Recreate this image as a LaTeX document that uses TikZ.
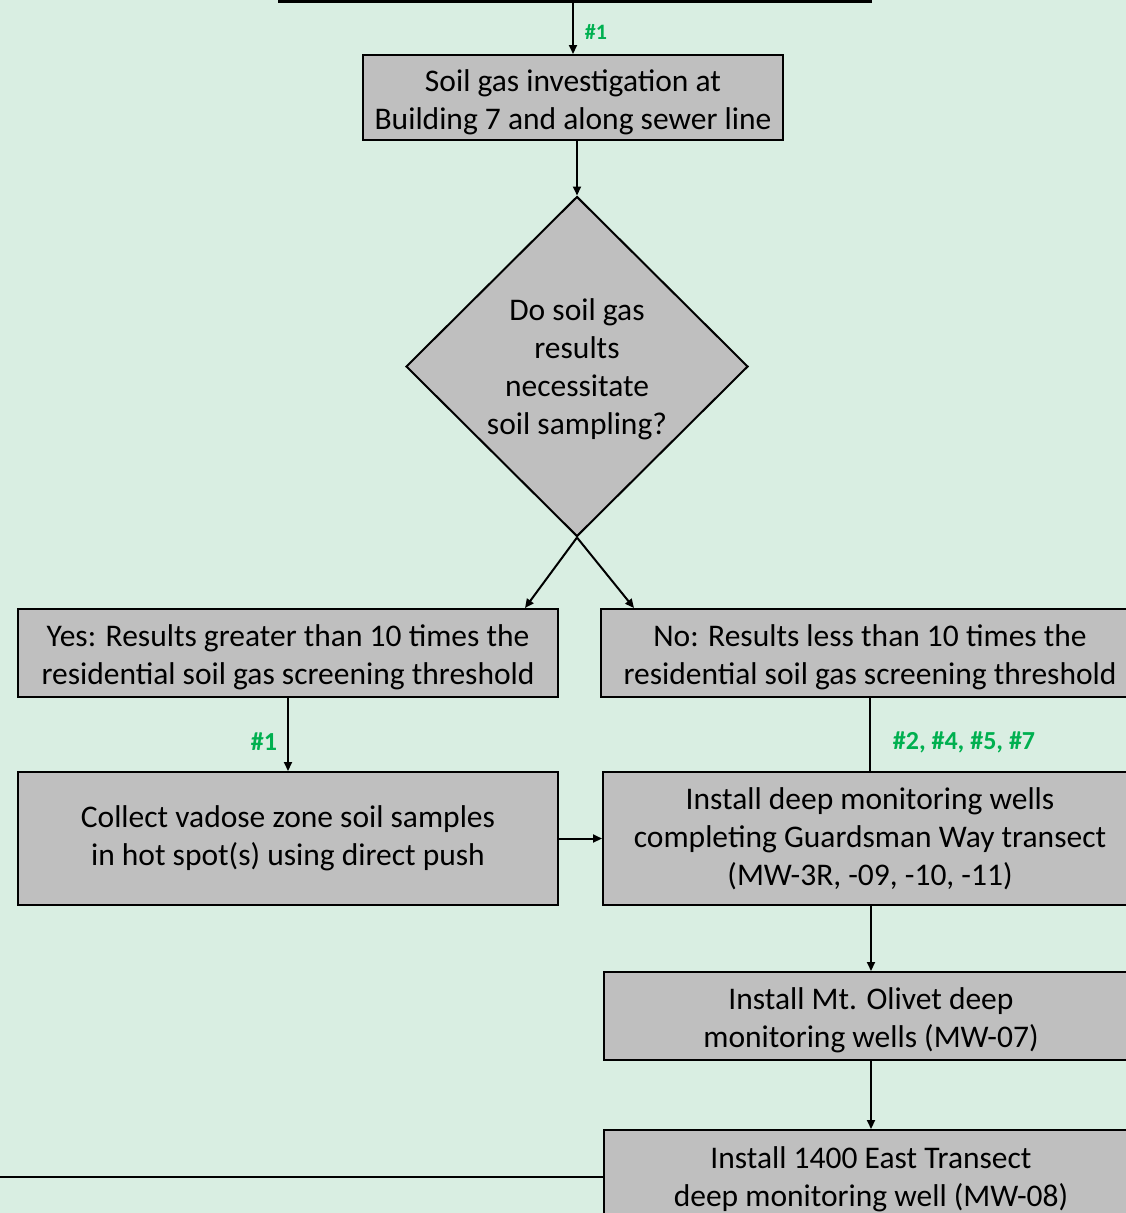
\documentclass[tikz,border=0pt]{standalone}
\usepackage{fontspec}
\setmainfont{Carlito}
\usetikzlibrary{shapes.geometric,arrows.meta}
\definecolor{bg}{RGB}{217,238,226}
\definecolor{boxgray}{RGB}{191,191,191}
\definecolor{lblgreen}{RGB}{0,176,80}
\newcommand\mytopstrut{\rule{0pt}{30.5pt}}
\begin{document}
\begin{tikzpicture}[x=1pt,y=-1pt,
  box/.style={draw=black,line width=2pt,fill=boxgray,align=center,inner sep=0pt,font=\fontsize{31.5}{38}\selectfont},
  arr/.style={line width=2pt,-{Triangle[length=9pt,width=8pt]}},
  conn/.style={line width=2pt},
  lbl/.style={text=lblgreen,font=\fontsize{26}{30}\selectfont\bfseries}]
\useasboundingbox (0,0) rectangle (1126,1213);
\path[clip] (0,0) rectangle (1126,1213);
\fill[bg] (0,0) rectangle (1126,1213);

\node[box,minimum width=590pt,minimum height=100pt,line width=3.5pt] (top) at (575,-49) {};
\node[box,minimum width=420pt,minimum height=85pt] (b1) at (573,97.5) {\mytopstrut Soil gas investigation at\\Building 7 and along sewer line};
\node[draw=black,line width=2pt,fill=boxgray,diamond,minimum width=342pt,minimum height=340pt,inner sep=0pt] (d) at (577,366.5) {};
\node[align=center,font=\fontsize{31.5}{38}\selectfont] (dq) at (577,369) {Do soil gas\\results\\necessitate\\soil sampling?};
\node[box,minimum width=540pt,minimum height=88pt] (yes) at (288,653) {\mytopstrut Yes: Results greater than 10 times the\\residential soil gas screening threshold};
\node[box,minimum width=538pt,minimum height=88pt] (no) at (870,653) {\mytopstrut No: Results less than 10 times the\\residential soil gas screening threshold};
\node[box,minimum width=540pt,minimum height=133pt] (collect) at (288,838.5) {Collect vadose zone soil samples\\in hot spot(s) using direct push};
\node[box,minimum width=534pt,minimum height=133pt] (install) at (870,838.5) {Install deep monitoring wells\\completing Guardsman Way transect\\(MW-3R, -09, -10, -11)};
\node[box,minimum width=534pt,minimum height=88pt] (mt) at (871,1016) {\mytopstrut Install Mt. Olivet deep\\monitoring wells (MW-07)};
\node[box,minimum width=534pt,minimum height=90pt] (east) at (871,1175) {\mytopstrut Install 1400 East Transect\\deep monitoring well (MW-08)};

\draw[arr] (top.south -| b1.north) -- (b1.north);
\node[lbl,font=\fontsize{22}{26}\selectfont\bfseries] (l1) at (596,32) {\#1};
\draw[arr] (b1.south -| d.north) -- (d.north);
\draw[arr] (d.south) -- ([xshift=237pt]yes.north);
\draw[arr] (d.south) -- ([xshift=-236pt]no.north);
\draw[arr] (yes.south) -- (collect.north);
\node[lbl] (l2) at (264,742) {\#1};
\draw[conn] (no.south) -- (install.north);
\node[lbl] (l3) at (964,742) {\#2, \#4, \#5, \#7};
\draw[arr] (collect.east) -- (install.west);
\draw[arr] (install.south -| mt.north) -- (mt.north);
\draw[arr] (mt.south) -- (east.north);
\coordinate (lft) at (0,1177);
\draw[conn] (lft) -- (lft -| east.west);
\end{tikzpicture}
\end{document}
